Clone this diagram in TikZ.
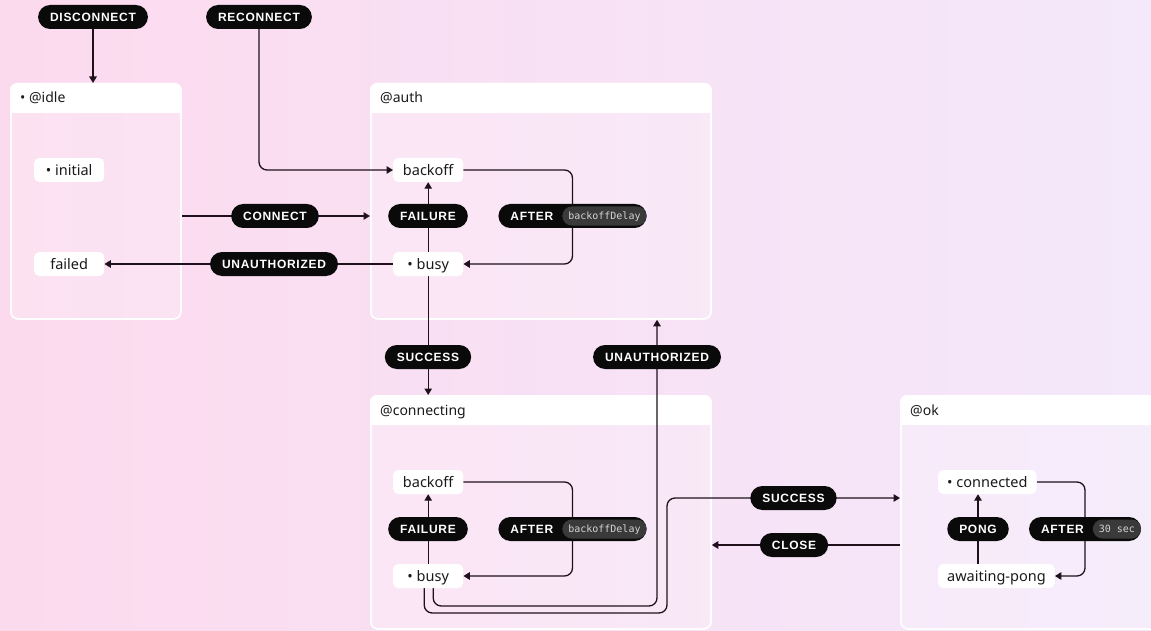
\documentclass[tikz,border=0pt]{standalone}
\usepackage{fontspec}
\setmainfont{Noto Sans}
\newfontfamily\monofont{DejaVu Sans Mono}
\newfontfamily\pillfont[LetterSpace=6]{Liberation Sans}
\usetikzlibrary{arrows.meta,calc}

\definecolor{bgL}{HTML}{FCDAEE}
\definecolor{bgR}{HTML}{F4E8FB}
\definecolor{ink}{HTML}{1E111C}
\definecolor{pillbg}{HTML}{0A0A0A}
\definecolor{delaybg}{HTML}{3A3A3A}
\definecolor{delayfg}{HTML}{D4D4D4}
\definecolor{txt}{HTML}{1A1A1A}

\pgfdeclarelayer{canvas}
\pgfdeclarelayer{boxes}
\pgfdeclarelayer{wires}
\pgfsetlayers{canvas,boxes,wires,main}

\tikzset{
  compound/.style={draw=white, line width=1.8pt, fill=white, fill opacity=0.22,
    draw opacity=0.95, rounded corners=7pt, inner sep=0pt, anchor=north west},
  head/.style={anchor=west, inner sep=0pt, text=txt, text height=10.5pt, text depth=2.5pt,
    font=\fontsize{14}{16}\selectfont},
  state/.style={fill=white, rounded corners=5pt, minimum width=70pt, minimum height=24pt,
    inner xsep=9pt, inner ysep=0pt, text height=12pt, text depth=1pt, text=txt,
    anchor=west, font=\fontsize{14.5}{16}\selectfont},
  pill/.style={fill=pillbg, rounded corners=12pt, minimum height=24pt, inner xsep=12pt,
    inner ysep=0pt, text height=8.6pt, text depth=0pt, text=white,
    font=\pillfont\bfseries\fontsize{12}{14}\selectfont},
  delaypill/.style={fill=delaybg, rounded corners=9.5pt, minimum height=19pt, minimum width=0pt,
    inner xsep=6pt, inner ysep=0pt, text height=8pt, text depth=1pt, text=delayfg,
    font=\monofont\mdseries\fontsize{10}{11}\selectfont},
  wire/.style={draw=ink, line width=1.3pt, -{Triangle[length=6.5pt,width=7.5pt]}, rounded corners=8pt},
}

% grey timer tag set inside an AFTER label, centred on the capitals
\newcommand{\delaytag}[1]{\tikz[baseline={([yshift=-4.3pt]d.center)}]\node[delaypill](d){#1};}
\newcommand{\afterlabel}[1]{\hspace{12pt}AFTER\hspace{9pt}\delaytag{#1}\hspace{3pt}}
\newcommand{\headerband}[2]{%
  \fill[white, rounded corners=7pt] (#1.north west) rectangle ([yshift=-30pt]#1.north east);
  \fill[white] ([yshift=-15pt]#1.north west) rectangle ([yshift=-30pt]#1.north east);
  \node[head] (#1h) at ([xshift=10pt,yshift=-16pt]#1.north west) {#2};}

\begin{document}
\begin{tikzpicture}[x=1pt,y=-1pt]
\begin{pgfonlayer}{canvas}
  \shade[left color=bgL, right color=bgR] (0,0) rectangle (1151,631);
\end{pgfonlayer}

% compound states with their header bands
\begin{pgfonlayer}{boxes}
  \node[compound, minimum width=170pt, minimum height=235pt] (idle) at (10,83) {};
  \node[compound, minimum width=340pt, minimum height=235pt] (auth) at (370,83) {};
  \node[compound, minimum width=340pt, minimum height=233pt] (conn) at (370,395) {};
  \node[compound, minimum width=270pt, minimum height=233pt] (ok) at (900,395) {};
  \headerband{idle}{• @idle}
  \headerband{auth}{@auth}
  \headerband{conn}{@connecting}
  \headerband{ok}{@ok}
\end{pgfonlayer}

% atomic states
\node[state] (init) at (34,170) {• initial};
\node[state] (failed) at (34,264) {failed};
\node[state] (aback) at (393,170) {backoff};
\node[state] (abusy) at (393,264) {• busy};
\node[state] (cback) at (393,482) {backoff};
\node[state] (cbusy) at (393,576) {• busy};
\node[state] (connd) at (938,482) {• connected};
\node[state] (awp) at (938,576) {awaiting-pong};

% event labels
\node[pill] (dis) at (93,17) {DISCONNECT};
\node[pill] (rec) at (259,17) {RECONNECT};
\node[pill] (con) at (275,216) {CONNECT};
\node[pill] (un1) at (274,264) {UNAUTHORIZED};
\node[pill] (failA) at (428,216) {FAILURE};
\node[pill, inner xsep=0pt] (aftA) at (572.5,216) {\afterlabel{backoffDelay}};
\node[pill] (suc1) at (428,357) {SUCCESS};
\node[pill] (un2) at (657,357) {UNAUTHORIZED};
\node[pill] (failC) at (428,529) {FAILURE};
\node[pill, inner xsep=0pt] (aftC) at (572.5,529) {\afterlabel{backoffDelay}};
\node[pill] (suc2) at (793.5,498) {SUCCESS};
\node[pill] (clo) at (794,545) {CLOSE};
\node[pill] (pong) at (978,529) {PONG};
\node[pill, inner xsep=0pt] (aftO) at (1085,529) {\afterlabel{30 sec}};

\coordinate (u2) at (657,606);
\coordinate (s2a) at (667,613);
\coordinate (s2b) at (667,498);

% transitions
\begin{pgfonlayer}{wires}
  \draw[wire] (dis.south) -- (dis.south |- idle.north);
  \draw[wire] (rec.south) |- (aback.west);
  \draw[wire] (idle.east |- con.center) -- (auth.west |- con.center);
  \draw[wire] (abusy.west) -- (failed.east);
  \draw[wire] (abusy.north) -- (aback.south);
  \draw[wire] (aback.east) -| (aftA.center) |- (abusy.east);
  \draw[wire] (abusy.south) -- (abusy.south |- conn.north);
  \draw[wire] (cbusy.north) -- (cback.south);
  \draw[wire] (cback.east) -| (aftC.center) |- (cbusy.east);
  \draw[wire] ([xshift=5pt]cbusy.south) |- (u2) -- (u2 |- auth.south);
  \draw[wire] ([xshift=-4pt]cbusy.south) |- (s2a) -- (s2b) -- (ok.west |- s2b);
  \draw[wire] (ok.west |- clo.center) -- (conn.east |- clo.center);
  \draw[wire] (pong.center |- awp.north) -- (pong.center |- connd.south);
  \draw[wire] (connd.east) -| (aftO.center) |- (awp.east);
\end{pgfonlayer}

\pgfresetboundingbox
\useasboundingbox (0,0) rectangle (1151,631);
\end{tikzpicture}
\end{document}
